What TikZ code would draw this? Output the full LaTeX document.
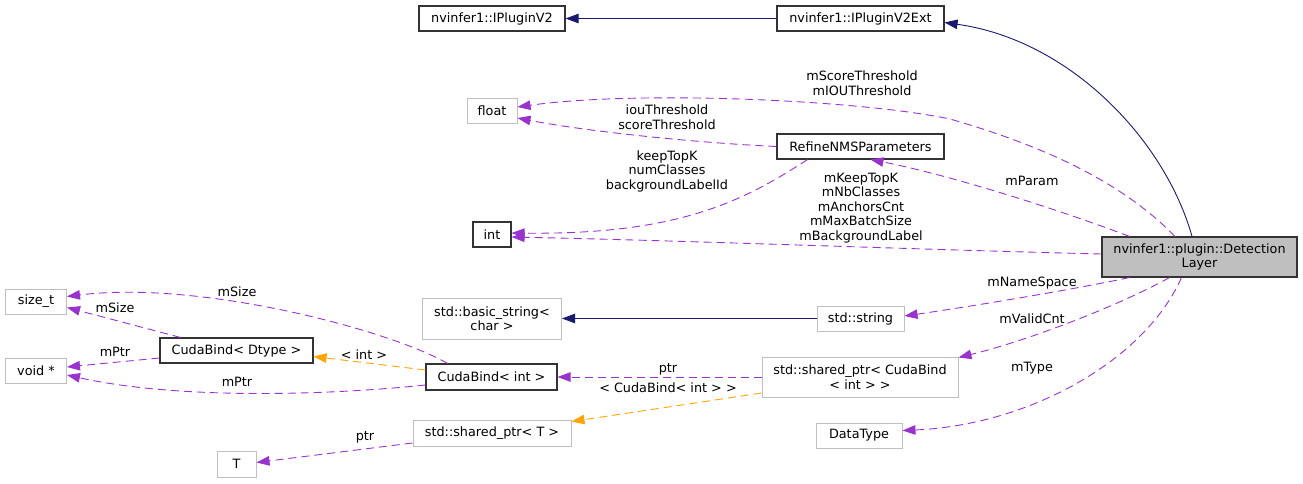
\documentclass[tikz,border=0pt]{standalone}
\usepackage{fontspec}
\setmainfont{DejaVu Sans}
\usetikzlibrary{arrows.meta}
\definecolor{navy}{HTML}{191970}
\definecolor{member}{HTML}{9A32CD}
\definecolor{tmpl}{HTML}{FFA500}
\definecolor{greybd}{HTML}{BFBFBF}
\definecolor{boxbd}{HTML}{333333}
\tikzset{
  box/.style={draw=boxbd, line width=1.1pt, fill=white, rectangle, inner sep=0pt, align=center,
    font=\fontsize{12.8}{14.5}\selectfont},
  gbox/.style={box, draw=greybd, line width=1pt},
  hbox/.style={box, fill=greybd},
  tip/.style={-{Triangle[length=13pt,width=9.5pt]}},
  inherit/.style={tip, draw=navy, line width=0.9pt},
  use/.style={tip, draw=member, line width=0.9pt, dash pattern=on 8pt off 5pt},
  tuse/.style={tip, draw=tmpl, line width=0.9pt, dash pattern=on 8pt off 5pt},
  lbl/.style={align=center, inner sep=0pt, font=\fontsize{12.8}{14.5}\selectfont}
}
\begin{document}
\begin{tikzpicture}[x=1pt,y=-1pt]
\useasboundingbox (0,0) rectangle (1303,483);
% nodes
\node[box, minimum width=146pt, minimum height=25pt] (v2) at (492,18.5) {nvinfer1::IPluginV2};
\node[box, minimum width=167pt, minimum height=25pt] (ext) at (860.5,18.5) {nvinfer1::IPluginV2Ext};
\node[gbox, minimum width=50pt, minimum height=25pt] (float) at (492,110.5) {float};
\node[box, minimum width=167pt, minimum height=25pt] (refine) at (860.5,146.5) {RefineNMSParameters};
\node[box, minimum width=38pt, minimum height=25pt] (int) at (492,234.5) {int};
\node[hbox, minimum width=195pt, minimum height=40pt] (det) at (1199.5,257) {nvinfer1::plugin::Detection\\Layer};
\node[gbox, minimum width=61pt, minimum height=25pt] (sizet) at (36,301.5) {size\_t};
\node[gbox, minimum width=61pt, minimum height=25pt] (voidp) at (36,370.5) {void *};
\node[box, minimum width=153pt, minimum height=25pt] (dtype) at (236.5,350.5) {CudaBind< Dtype >};
\node[box, minimum width=131pt, minimum height=26pt] (cint) at (491.5,377) {CudaBind< int >};
\node[gbox, minimum width=139pt, minimum height=41pt] (basic) at (492,318.5) {std::basic\_string<\\char >};
\node[gbox, minimum width=87pt, minimum height=25pt] (string) at (860.5,318.5) {std::string};
\node[gbox, minimum width=196pt, minimum height=40pt] (spc) at (860,377) {std::shared\_ptr< CudaBind\\< int > >};
\node[gbox, minimum width=158pt, minimum height=26pt] (spt) at (492,433) {std::shared\_ptr< T >};
\node[gbox, minimum width=39pt, minimum height=26pt] (T) at (236.5,464) {T};
\node[gbox, minimum width=86pt, minimum height=25pt] (dt) at (859,435.5) {DataType};
% edges
\draw[inherit] (ext.west) -- (v2.east);
\draw[inherit] ([xshift=-7.5pt]det.north) .. controls (1165,140) and (1070,40) .. ([yshift=-4pt]ext.east);
\draw[use] ([xshift=-24.5pt]det.north) .. controls (1120,180) and (1040,145) .. (950,119)
   .. controls (860,100) and (640,90) .. ([yshift=3.5pt]float.east);
\draw[use] (refine.west) .. controls (700,143) and (590,132) .. ([yshift=-7.5pt]float.east);
\draw[use] ([xshift=-53pt]refine.south) .. controls (745,200) and (680,235) .. ([yshift=1.5pt]int.east);
\draw[use] ([xshift=-70pt]det.north) .. controls (1060,210) and (950,175) .. ([xshift=10pt]refine.south);
\draw[use] ([yshift=3pt]det.west) .. controls (900,249) and (700,241) .. ([yshift=-2.5pt]int.east);
\draw[use] ([xshift=-70pt]det.south) .. controls (1060,292) and (960,308) .. ([yshift=2.5pt]string.east);
\draw[use] ([xshift=-30pt]det.south) .. controls (1120,305) and (1030,340) .. ([yshift=-1pt]spc.north east);
\draw[use] ([xshift=-18pt]det.south) .. controls (1145,360) and (1030,425) .. ([yshift=5pt]dt.east);
\draw[inherit] (string.west) -- (basic.east);
\draw[use] (spc.west) -- (cint.east);
\draw[tuse] ([yshift=-16pt]spc.west) -- ([yshift=-2pt]spt.north east);
\draw[use] ([xshift=-44pt]cint.north) .. controls (390,330) and (200,280) .. ([yshift=5pt]sizet.east);
\draw[tuse] ([yshift=7pt]cint.west) -- ([yshift=-6pt]dtype.east);
\draw[use] ([yshift=-8pt]cint.west) .. controls (330,395) and (180,400) .. ([yshift=-4.5pt]voidp.east);
\draw[use] ([xshift=-56pt]dtype.north) -- ([yshift=-6pt]sizet.east);
\draw[use] ([yshift=-7.5pt]dtype.west) -- ([yshift=3.5pt]voidp.east);
\draw[use] ([yshift=-10pt]spt.west) -- ([yshift=1.5pt]T.east);
% labels
\node[lbl] (l1) at (862,83) {mScoreThreshold\\mIOUThreshold};
\node[lbl] (l2) at (667,117) {iouThreshold\\scoreThreshold};
\node[lbl] (l3) at (667,171) {keepTopK\\numClasses\\backgroundLabelId};
\node[lbl] (l4) at (1032,181) {mParam};
\node[lbl] (l5) at (861,208) {mKeepTopK\\mNbClasses\\mAnchorsCnt\\mMaxBatchSize\\mBackgroundLabel};
\node[lbl] (l6) at (1032,283) {mNameSpace};
\node[lbl] (l7) at (1032,319) {mValidCnt};
\node[lbl] (l8) at (1032,368) {mType};
\node[lbl] (l9) at (668,369) {ptr};
\node[lbl] (l10) at (668,388) {< CudaBind< int > >};
\node[lbl] (l11) at (237,292) {mSize};
\node[lbl] (l12) at (115,308) {mSize};
\node[lbl] (l13) at (115,352) {mPtr};
\node[lbl] (l14) at (237,382) {mPtr};
\node[lbl] (l15) at (364,355) {< int >};
\node[lbl] (l16) at (365,437) {ptr};
\end{tikzpicture}
\end{document}
